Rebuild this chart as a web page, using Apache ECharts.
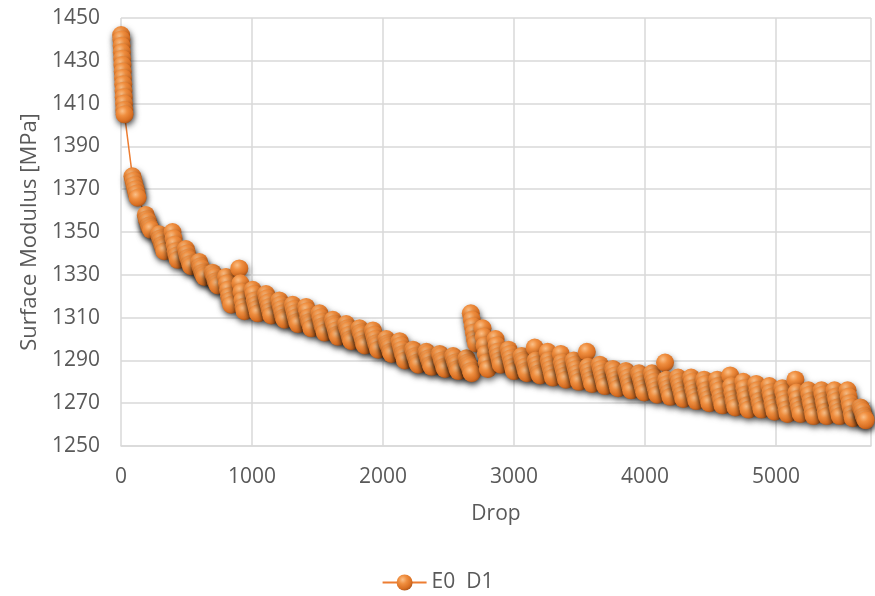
<!DOCTYPE html>
<html><head><meta charset="utf-8">
<script src="https://cdn.jsdelivr.net/npm/echarts@6/dist/echarts.min.js"></script>
<style>html,body{margin:0;padding:0;background:#fff}#c{width:875px;height:596px}</style>
</head><body><div id="c"></div>
<script>
// First test block (drops 1..27)
const firstDrops = [1,3,5,7,9,11,13,15,17,19,21,23,25,27];
const firstModulus = [1442,1440,1437,1434,1431,1428,1425,1422,1419,1416,1413,1410,1407,1405];
// Later test blocks: centre drop of each block and the readings in it
const blockDrops = [107,209,311,413,515,617,719,821,923,1025,1127,1229,1331,1433,1535,1637,1739,1841,1943,2045,2147,2249,2351,2453,2555,2657,
  2690,2780,2879,2979,3078,3178,3277,3377,3476,3576,3675,3775,3874,3974,4073,4173,4272,4372,4471,4571,4670,4770,4869,4969,5068,5168,5267,5367,5466,5566,5665];
const dropOffsets = [-20,-12,-4,4,12,20];
const blockModulus = [
  [1376,1374,1372,1370,1368,1366],
  [1358,1356,1355,1353,1352,1351],
  [1349,1347,1346,1344,1343,1341],
  [1350,1347,1344,1341,1339,1337],
  [1342,1340,1338,1337,1335,1334],
  [1336,1334,1333,1331,1330,1329],
  [1331,1330,1329,1327,1326,1325],
  [1329,1326,1323,1320,1318,1316],
  [1333,1326,1322,1318,1315,1313],
  [1323,1321,1318,1316,1314,1312],
  [1321,1319,1317,1315,1313,1311],
  [1318,1316,1314,1312,1310,1309],
  [1316,1314,1312,1310,1308,1307],
  [1315,1313,1310,1308,1307,1305],
  [1312,1310,1308,1306,1305,1303],
  [1309,1307,1306,1304,1302,1301],
  [1307,1305,1304,1302,1300,1299],
  [1305,1303,1302,1300,1298,1297],
  [1304,1302,1300,1298,1297,1295],
  [1300,1298,1297,1296,1294,1293],
  [1299,1297,1295,1293,1292,1290],
  [1295,1294,1292,1291,1289,1288],
  [1294,1293,1291,1290,1288,1287],
  [1293,1292,1290,1289,1287,1286],
  [1292,1291,1289,1288,1286,1285],
  [1291,1289,1288,1287,1285,1284],
  [1312,1309,1306,1303,1300,1298],
  [1305,1301,1297,1293,1289,1286],
  [1300,1297,1294,1292,1290,1288],
  [1295,1293,1291,1289,1287,1285],
  [1292,1290,1289,1287,1285,1284],
  [1296,1290,1288,1286,1284,1283],
  [1294,1290,1288,1286,1284,1282],
  [1293,1289,1287,1285,1283,1281],
  [1290,1288,1286,1284,1282,1280],
  [1294,1287,1285,1283,1281,1279],
  [1288,1286,1284,1282,1280,1278],
  [1286,1285,1283,1281,1279,1277],
  [1285,1284,1282,1280,1278,1276],
  [1284,1283,1281,1279,1277,1275],
  [1284,1282,1280,1278,1276,1274],
  [1289,1281,1279,1277,1275,1273],
  [1282,1280,1278,1276,1274,1272],
  [1282,1280,1277,1275,1273,1271],
  [1281,1279,1276,1274,1272,1270],
  [1281,1278,1276,1273,1271,1269],
  [1283,1278,1275,1272,1270,1268],
  [1280,1277,1274,1272,1269,1267],
  [1279,1276,1274,1271,1269,1267],
  [1278,1275,1273,1270,1268,1266],
  [1277,1275,1272,1270,1267,1265],
  [1281,1275,1272,1269,1267,1265],
  [1276,1274,1271,1269,1266,1264],
  [1276,1274,1271,1269,1266,1264],
  [1276,1273,1271,1268,1266,1264],
  [1276,1273,1270,1268,1265,1263],
  [1268,1267,1266,1264,1263,1262]
];
const yTicks = {min:1250, max:1450, interval:20};
const xTicks = {min:0, max:5725, interval:1000};
const seriesName = 'E0  D1';

const points = [];
firstDrops.forEach((d,i)=>points.push([d, firstModulus[i]]));
blockDrops.forEach((c,bi)=>{
  blockModulus[bi].forEach((v,k)=>points.push([c + dropOffsets[k], v]));
});

const txt = '#595959';
const font = 'Open Sans';
const sphere = {
  type:'radial', x:0.38, y:0.32, r:0.75,
  colorStops:[
    {offset:0, color:'#fbc088'},
    {offset:0.35, color:'#f08f40'},
    {offset:0.75, color:'#d96f22'},
    {offset:1, color:'#a0501a'}
  ]
};
const plain = v => String(v);
const chart = echarts.init(document.getElementById('c'));
chart.setOption({
  animation:false,
  grid:{left:121, right:4, top:18, bottom:150},
  xAxis:{
    type:'value', min:xTicks.min, max:xTicks.max, interval:xTicks.interval,
    name:'Drop', nameLocation:'middle', nameGap:58,
    nameTextStyle:{color:txt, fontFamily:font, fontSize:21},
    axisLine:{show:true, lineStyle:{color:'#d9d9d9', width:1.5}},
    axisTick:{show:false},
    axisLabel:{color:txt, fontFamily:font, fontSize:21, margin:21, showMaxLabel:false, formatter:plain},
    splitLine:{show:true, lineStyle:{color:'#d9d9d9', width:1.5}}
  },
  yAxis:{
    type:'value', min:yTicks.min, max:yTicks.max, interval:yTicks.interval,
    name:'Surface Modulus [MPa]', nameLocation:'middle', nameGap:80,
    nameTextStyle:{color:txt, fontFamily:font, fontSize:22},
    axisLine:{show:false}, axisTick:{show:false},
    axisLabel:{color:txt, fontFamily:font, fontSize:21, margin:21, formatter:plain},
    splitLine:{show:true, lineStyle:{color:'#d9d9d9', width:1.5}}
  },
  legend:{
    top:567, left:'center', itemWidth:44, itemHeight:20, itemGap:10,
    textStyle:{color:txt, fontFamily:font, fontSize:21},
    data:[seriesName]
  },
  series:[{
    type:'line', name:seriesName, data:points,
    symbol:'circle', symbolSize:18, showSymbol:true,
    lineStyle:{color:'#ed7d31', width:1.5},
    itemStyle:{color:sphere, shadowColor:'rgba(0,0,0,0.55)', shadowBlur:6, shadowOffsetX:1, shadowOffsetY:3},
    emphasis:{disabled:true}
  }]
});
</script></body></html>
